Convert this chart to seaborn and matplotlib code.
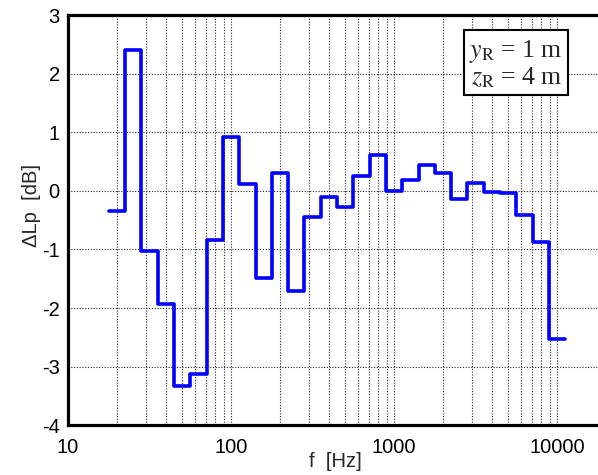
import numpy as np
import pandas as pd
import matplotlib
matplotlib.use("Agg")
import matplotlib.pyplot as plt
import seaborn as sns

# third-octave band centre frequencies [Hz]
band_centres = [20, 25, 31.5, 40, 50, 63, 80, 100, 125, 160, 200, 250, 315,
                400, 500, 630, 800, 1000, 1250, 1600, 2000, 2500, 3150, 4000,
                5000, 6300, 8000, 10000]
# level difference per band [dB]
delta_lp = [-0.35, 2.40, -1.03, -1.94, -3.33, -3.13, -0.84, 0.92, 0.12, -1.48,
            0.30, -1.71, -0.44, -0.10, -0.27, 0.26, 0.62, 0.00, 0.18, 0.44,
            0.31, -0.14, 0.14, -0.02, -0.03, -0.41, -0.87, -2.53]

y_ticks = [-4, -3, -2, -1, 0, 1, 2, 3]
x_ticks = [10, 100, 1000, 10000]

# band edges for the step curve
fc = np.array(band_centres, dtype=float)
edges = list(fc / 2 ** (1 / 6)) + [fc[-1] * 2 ** (1 / 6)]
df = pd.DataFrame({"f": edges, "dLp": delta_lp + [delta_lp[-1]]})

sns.set_style("white")
plt.rcParams["font.family"] = ["Liberation Sans", "DejaVu Sans"]
plt.rcParams["mathtext.fontset"] = "stix"

fig = plt.figure(figsize=(5.98, 4.75), dpi=100)
ax = fig.add_axes([0.1137, 0.105, 0.9, 0.863])

sns.lineplot(data=df, x="f", y="dLp", drawstyle="steps-post", color="#0000ff",
             linewidth=2.6, ax=ax, estimator=None, sort=False)

ax.set_xscale("log")
ax.set_xlim(10, 20000)
ax.set_ylim(-4, 3)
ax.set_xticks(x_ticks)
ax.set_xticklabels([str(t) for t in x_ticks])
ax.set_yticks(y_ticks)
ax.set_yticklabels([str(t) for t in y_ticks])
ax.tick_params(axis="both", which="both", length=0, labelsize=14.5, colors="black")
ax.tick_params(axis="x", pad=9)
ax.tick_params(axis="y", pad=6)

ax.grid(True, which="major", axis="both", linestyle=(0, (1, 1.5)), color="0.15", linewidth=0.8)
ax.grid(True, which="minor", axis="x", linestyle=(0, (1, 1.5)), color="0.15", linewidth=0.8)

for side in ["left", "top", "bottom", "right"]:
    ax.spines[side].set_linewidth(2.3)
    ax.spines[side].set_color("black")

ax.set_xlabel("f  [Hz]", fontsize=14.5)
ax.set_ylabel("ΔLp  [dB]", fontsize=14.5)
ax.xaxis.set_label_coords(0.496, -0.066)
ax.yaxis.set_label_coords(-0.05, 0.535)

ax.text(0.919, 0.945, "$y_{\\mathrm{R}}$ = 1 m\n$z_{\\mathrm{R}}$ = 4 m",
        transform=ax.transAxes, ha="right", va="top", fontsize=18.5,
        family="Liberation Serif", linespacing=1.05,
        bbox=dict(boxstyle="square,pad=0.2", facecolor="white",
                  edgecolor="black", linewidth=1.5))

fig.savefig("out.png", dpi=100)
